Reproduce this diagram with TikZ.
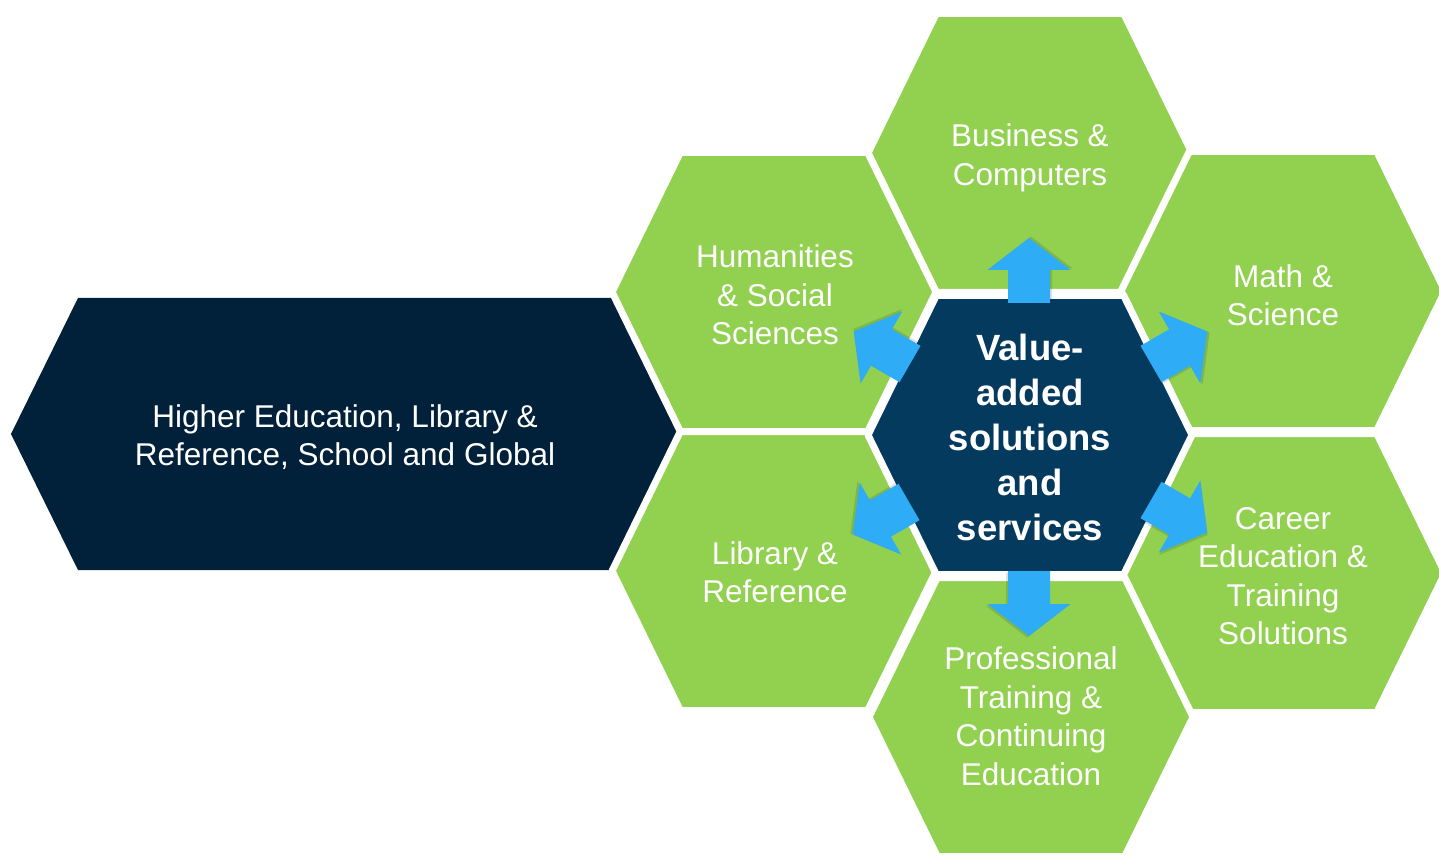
\documentclass[tikz,border=0pt]{standalone}
\usepackage{fontspec}
\setmainfont{Liberation Sans}
\definecolor{hexgreen}{HTML}{92D050}
\definecolor{coreblue}{HTML}{053A5F}
\definecolor{navyband}{HTML}{01203A}
\definecolor{arrowblue}{HTML}{2EACF6}
\tikzset{
  pics/hexa/.style={code={%
    \path[pic actions] (-162,0) -- (-93.7,-139.5) -- (93.7,-139.5) -- (162,0)
      -- (93.7,139.5) -- (-93.7,139.5) -- cycle;}},
  pics/blockarr/.style={code={%
    \path[pic actions] (0,-21) -- (33,-21) -- (33,-41.5) -- (65,0)
      -- (33,41.5) -- (33,21) -- (0,21) -- cycle;}},
  hexgreenshape/.style={fill=hexgreen, draw=white, line width=7pt, line join=round},
  hexcoreshape/.style={fill=coreblue, draw=white, line width=7pt, line join=round},
  hexshade/.style={fill=black, opacity=0.10},
  arrowfill/.style={fill=arrowblue},
  arrowshade/.style={fill=black, opacity=0.12},
  hexlabel/.style={text=white, align=center, inner sep=0pt,
    font=\fontsize{31.5}{38.5}\selectfont},
  corelabel/.style={text=white, align=center, inner sep=0pt,
    font=\fontsize{36.5}{45}\selectfont\bfseries},
}
\begin{document}
\begin{tikzpicture}[x=1pt,y=-1pt]
\useasboundingbox (0,0) rectangle (1439,858);
\fill[white] (0,0) rectangle (1439,858);

% hex centres
\coordinate (cB) at (1030,153);
\coordinate (cH) at (774,292);
\coordinate (cM) at (1283,291);
\coordinate (cC) at (1030,435);
\coordinate (cL) at (774,571);
\coordinate (cE) at (1283,573);
\coordinate (cP) at (1031,717);

% left band
\fill[navyband] (11,434) -- (78,298) -- (720,298) -- (720,570) -- (78,570) -- cycle;
\node[hexlabel] (band) at (345,437) {Higher Education, Library \&\\Reference, School and Global};

% shadows of hexagons
\foreach \c in {cB,cH,cM,cL,cE,cP}
  \pic[hexshade, xshift=2pt, yshift=-3pt] at (\c) {hexa};

% green hexagons
\foreach \c in {cB,cH,cM,cL,cE,cP}
  \pic[hexgreenshape] at (\c) {hexa};

% centre hexagon
\pic[hexcoreshape] at (cC) {hexa};

% arrow bases
\coordinate (aU) at (1029,303);
\coordinate (aD) at (1029,571);
\coordinate (aUL) at (910,364);
\coordinate (aUR) at (1151,364);
\coordinate (aLL) at (909,502);
\coordinate (aLR) at (1151,500);

% arrow shadows
\pic[arrowshade, rotate=90,  xshift=1.5pt, yshift=-2pt] at (aU) {blockarr};
\pic[arrowshade, rotate=270, xshift=1.5pt, yshift=-2pt] at (aD) {blockarr};
\pic[arrowshade, rotate=150, xshift=1.5pt, yshift=-2pt] at (aUL) {blockarr};
\pic[arrowshade, rotate=30,  xshift=1.5pt, yshift=-2pt] at (aUR) {blockarr};
\pic[arrowshade, rotate=210, xshift=1.5pt, yshift=-2pt] at (aLL) {blockarr};
\pic[arrowshade, rotate=330, xshift=1.5pt, yshift=-2pt] at (aLR) {blockarr};

% arrows
\pic[arrowfill, rotate=90]  at (aU) {blockarr};
\pic[arrowfill, rotate=270] at (aD) {blockarr};
\pic[arrowfill, rotate=150] at (aUL) {blockarr};
\pic[arrowfill, rotate=30]  at (aUR) {blockarr};
\pic[arrowfill, rotate=210] at (aLL) {blockarr};
\pic[arrowfill, rotate=330] at (aLR) {blockarr};

% labels
\node[corelabel] (core) at (1030,437) {Value-\\added\\solutions\\and\\services};
\node[hexlabel] (bus) at (1030,158) {Business \&\\Computers};
\node[hexlabel] (hum) at (775,295) {Humanities\\\& Social\\Sciences};
\node[hexlabel] (math) at (1283,295) {Math \&\\Science};
\node[hexlabel] (lib) at (775,572) {Library \&\\Reference};
\node[hexlabel] (car) at (1283,576) {Career\\Education \&\\Training\\Solutions};
\node[hexlabel] (pro) at (1031,716) {Professional\\Training \&\\Continuing\\Education};
\end{tikzpicture}
\end{document}
